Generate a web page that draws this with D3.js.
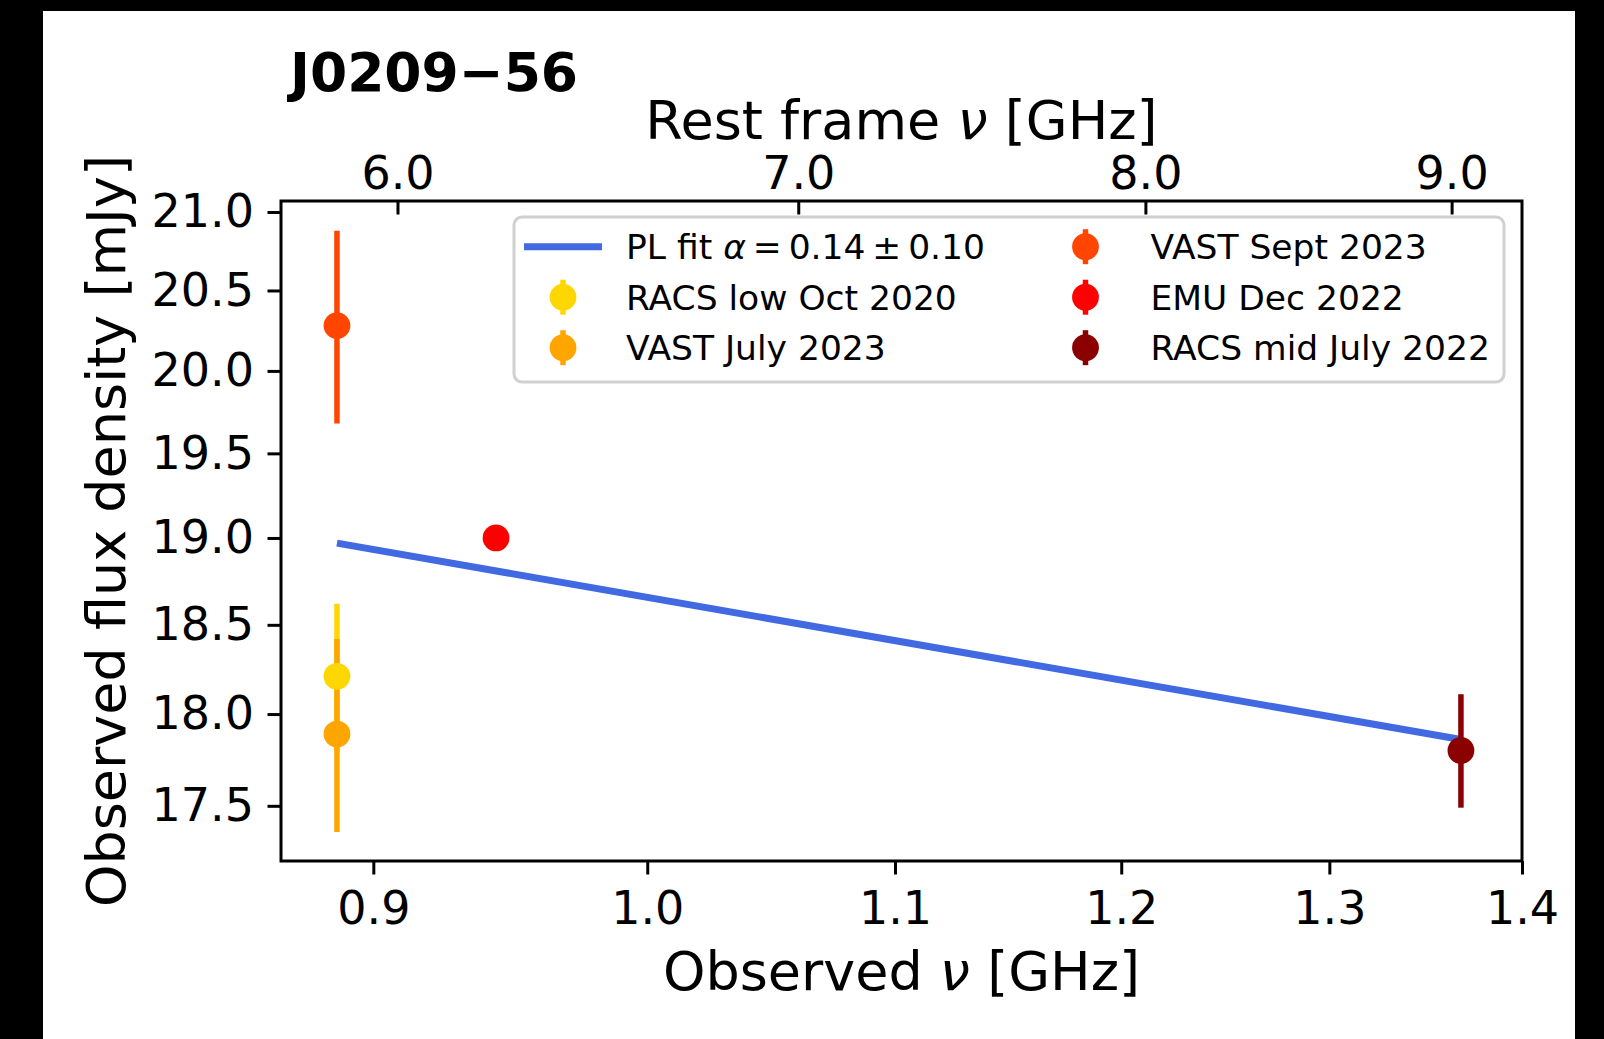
<!DOCTYPE html>
<html>
<head>
<meta charset="utf-8">
<script src="https://cdn.jsdelivr.net/npm/d3@7"></script>
<style>
body{margin:0;background:#000;}
svg{display:block;font-family:"DejaVu Sans",sans-serif;}
</style>
</head>
<body>
<div id="chart"></div>
<script>
/* global d3 */

// measurements (GHz, mJy)
const sources = ['RACS low Oct 2020', 'VAST July 2023', 'VAST Sept 2023', 'EMU Dec 2022', 'RACS mid July 2022'];
const freqs = [0.8875, 0.8875, 0.8875, 0.9435, 1.3675];
const fluxes = [18.21, 17.89, 20.28, 19.00, 17.80];
const errors = [0.41, 0.53, 0.60, 0.05, 0.31];
const colors = ['#FFD700', '#FFA500', '#FF4500', '#FF0000', '#8B0000'];

// power-law fit, end points
const fitFreq = [0.8875, 1.3675];
const fitFlux = [18.97, 17.86];
const fitColor = '#4169E1';

const xTicks = [0.9, 1.0, 1.1, 1.2, 1.3, 1.4];
const yTicks = [17.5, 18.0, 18.5, 19.0, 19.5, 20.0, 20.5, 21.0];
const restTicks = [6.0, 7.0, 8.0, 9.0];
const redshift = 5.605;

const W = 1604, H = 1039;
const m = {left:281, right:1522, top:201, bottom:861};

const svg = d3.select('#chart').append('svg')
  .attr('width', W).attr('height', H);
svg.append('rect').attr('width', W).attr('height', H).attr('fill', '#000');
svg.append('rect').attr('x', 43).attr('y', 11).attr('width', 1532).attr('height', H-11).attr('fill', '#fff');

const x = d3.scaleLog().domain([0.8686, 1.4]).range([m.left, m.right]);
const y = d3.scaleLog().domain([17.206, 21.071]).range([m.bottom, m.top]);
const xr = d3.scaleLog().domain(x.domain().map(v => v*(1+redshift))).range([m.left, m.right]);

const fmt = d3.format('.1f');

function style(g, size){
  g.select('.domain').remove();
  g.selectAll('.tick line').attr('stroke', '#000').attr('stroke-width', 3);
  g.selectAll('.tick text').attr('fill', '#000')
    .attr('font-size', size).attr('font-family', '"DejaVu Sans",sans-serif');
}

svg.append('g').attr('transform', `translate(0,${m.bottom})`)
  .call(d3.axisBottom(x).tickValues(xTicks).tickFormat(fmt).tickSize(13.5).tickPadding(17).tickSizeOuter(0))
  .call(g => style(g, 46));

svg.append('g').attr('transform', `translate(${m.left},0)`)
  .call(d3.axisLeft(y).tickValues(yTicks).tickFormat(fmt).tickSize(13.5).tickPadding(13.5).tickSizeOuter(0))
  .call(g => style(g, 46));

svg.append('g').attr('transform', `translate(0,${m.top})`)
  .call(d3.axisTop(xr).tickValues(restTicks).tickFormat(fmt).tickSize(-13.5).tickPadding(12).tickSizeOuter(0))
  .call(g => style(g, 46));

// fit line
svg.append('path')
  .datum(fitFreq.map((f, i) => [f, fitFlux[i]]))
  .attr('d', d3.line().x(d => x(d[0])).y(d => y(d[1])))
  .attr('fill', 'none').attr('stroke', fitColor).attr('stroke-width', 7);

const pts = sources.map((s, i) => ({name:s, f:freqs[i], s:fluxes[i], e:errors[i], c:colors[i]}));

svg.append('g').selectAll('line')
  .data(pts).enter().append('line')
  .attr('x1', d => x(d.f)).attr('x2', d => x(d.f))
  .attr('y1', d => y(d.s - d.e)).attr('y2', d => y(d.s + d.e))
  .attr('stroke', d => d.c).attr('stroke-width', 5.5);

svg.append('g').selectAll('circle')
  .data(pts).enter().append('circle')
  .attr('cx', d => x(d.f)).attr('cy', d => y(d.s))
  .attr('r', 13.4).attr('fill', d => d.c);

// frame
svg.append('rect')
  .attr('x', m.left).attr('y', m.top)
  .attr('width', m.right-m.left).attr('height', m.bottom-m.top)
  .attr('fill', 'none').attr('stroke', '#000').attr('stroke-width', 3);

// legend
const leg = svg.append('g');
leg.append('rect').attr('x', 514).attr('y', 217).attr('width', 990).attr('height', 165)
  .attr('rx', 8).attr('fill', '#fff').attr('fill-opacity', 0.8)
  .attr('stroke', '#d0d0d0').attr('stroke-width', 3);

const rowY = [246.7, 297.2, 347.7];
const items = [{fit:true}].concat(pts);
items.forEach((d, i) => {
  const col = Math.floor(i/3), row = i%3;
  const cy = rowY[row];
  const hx = col ? 1085.5 : 563;
  const tx = col ? 1150.5 : 626;
  if (d.fit) {
    leg.append('line').attr('x1', hx-39).attr('x2', hx+39).attr('y1', cy).attr('y2', cy)
      .attr('stroke', fitColor).attr('stroke-width', 7);
    const t = leg.append('text').attr('x', tx).attr('y', cy+12.5).attr('font-size', 34.5);
    t.append('tspan').text('PL fit ');
    t.append('tspan').attr('font-style', 'italic').text('α');
    t.append('tspan').text('\u2009=\u20090.14\u2009±\u20090.10');
  } else {
    leg.append('line').attr('x1', hx).attr('x2', hx).attr('y1', cy-17.5).attr('y2', cy+17.5)
      .attr('stroke', d.c).attr('stroke-width', 5.5);
    leg.append('circle').attr('cx', hx).attr('cy', cy).attr('r', 13.4).attr('fill', d.c);
    leg.append('text').attr('x', tx).attr('y', cy+12.5).attr('font-size', 34.5).text(d.name);
  }
});

// labels
const cx = (m.left+m.right)/2;
const xl = svg.append('text').attr('x', cx).attr('y', 990).attr('text-anchor', 'middle').attr('font-size', 54);
xl.append('tspan').text('Observed ');
xl.append('tspan').attr('font-style', 'italic').text('ν');
xl.append('tspan').text(' [GHz]');

const tl = svg.append('text').attr('x', cx).attr('y', 139).attr('text-anchor', 'middle').attr('font-size', 54);
tl.append('tspan').text('Rest frame ');
tl.append('tspan').attr('font-style', 'italic').text('ν');
tl.append('tspan').text(' [GHz]');

svg.append('text')
  .attr('transform', `translate(125,${(m.top+m.bottom)/2}) rotate(-90)`)
  .attr('text-anchor', 'middle').attr('font-size', 54)
  .text('Observed flux density [mJy]');

svg.append('text').attr('x', 290).attr('y', 91)
  .attr('font-size', 53.5).attr('font-weight', 'bold')
  .text('J0209−56');
</script>
</body>
</html>
